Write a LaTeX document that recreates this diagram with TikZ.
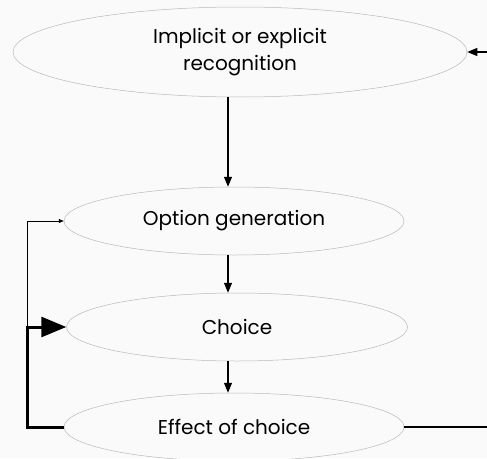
\documentclass[tikz,border=0pt]{standalone}
\usepackage{fontspec}
\setmainfont{Poppins}
\usetikzlibrary{shapes.geometric,arrows.meta}
\begin{document}
\begin{tikzpicture}[x=1pt,y=-1pt,
  oval/.style={ellipse,draw=gray!55,line width=0.5pt,inner sep=0pt,align=center,
    font=\fontsize{20}{27}\selectfont,text=black},
  arr/.style={-{Triangle[length=10pt,width=8pt]},line width=1.2pt},
  thinarr/.style={-{Triangle[length=5pt,width=4pt]},line width=0.6pt},
  thickarr/.style={-{Triangle[length=25pt,width=20pt]},line width=3pt},
  plain/.style={line width=1.2pt}]
\fill[black!2] (0,0) rectangle (487,458);
\useasboundingbox (0,0) rectangle (487,458);
\node[oval,minimum width=454,minimum height=90] (rec) at (240,52) {Implicit or explicit\\recognition};
\node[oval,minimum width=340,minimum height=68] (opt) at (234,221) {Option generation};
\node[oval,minimum width=341,minimum height=68] (cho) at (237,327) {Choice};
\node[oval,minimum width=340,minimum height=68] (eff) at (234,427) {Effect of choice};
\coordinate (ax) at (228,0);
\coordinate (lx) at (27,0);
\coordinate (rin) at (487,52);
\coordinate (rout) at (487,427);
\draw[arr] (rec.south -| ax) -- (opt.north -| ax);
\draw[arr] (opt.south -| ax) -- (cho.north -| ax);
\draw[arr] (cho.south -| ax) -- (eff.north -| ax);
\draw[arr] (rin) -- (rec.east);
\draw[plain] (eff.east) -- (rout);
\draw[thinarr] (cho.west -| lx) -- (opt.west -| lx) -- (opt.west);
\draw[thickarr] (eff.west) -- (eff.west -| lx) -- (cho.west -| lx) -- (cho.west);
\end{tikzpicture}
\end{document}
